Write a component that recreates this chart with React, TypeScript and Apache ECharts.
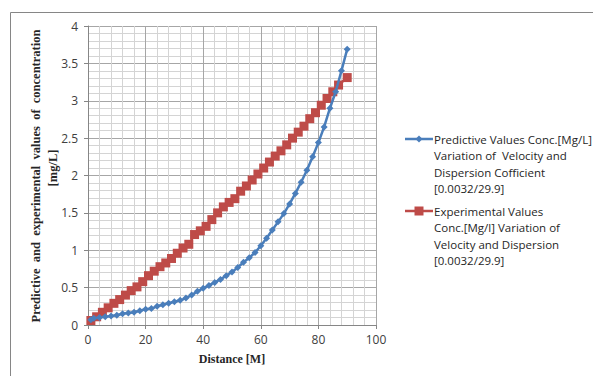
import React, { useEffect, useRef } from "react";
import * as echarts from "echarts";

const predictiveX = [1, 2, 4, 6, 8, 10, 12, 14, 16, 18, 20, 22, 24, 26, 28, 30, 32, 34, 36, 38, 40, 42, 44, 46, 48, 50, 52, 54, 56, 58, 60, 62, 64, 66, 68, 70, 72, 74, 76, 78, 80, 82, 84, 86, 88, 90];
const predictiveY = [0.07, 0.09, 0.1, 0.11, 0.12, 0.13, 0.15, 0.16, 0.17, 0.19, 0.21, 0.22, 0.25, 0.27, 0.29, 0.31, 0.33, 0.36, 0.4, 0.45, 0.49, 0.53, 0.57, 0.61, 0.66, 0.71, 0.77, 0.84, 0.9, 0.97, 1.06, 1.16, 1.27, 1.38, 1.49, 1.62, 1.76, 1.91, 2.07, 2.25, 2.44, 2.65, 2.9, 3.12, 3.4, 3.69];

const experimentalX = [1, 3, 5, 7, 9, 11, 13, 15, 17, 19, 21, 23, 25, 27, 29, 31, 33, 35, 37, 39, 41, 43, 45, 47, 49, 51, 53, 55, 57, 59, 61, 63, 65, 67, 69, 71, 73, 75, 77, 79, 81, 83, 85, 87, 90];
const experimentalY = [0.06, 0.11, 0.17, 0.23, 0.29, 0.34, 0.4, 0.46, 0.51, 0.58, 0.66, 0.72, 0.78, 0.83, 0.89, 0.96, 1.03, 1.08, 1.21, 1.26, 1.32, 1.41, 1.5, 1.58, 1.64, 1.69, 1.79, 1.86, 1.94, 2.02, 2.1, 2.18, 2.26, 2.33, 2.41, 2.5, 2.58, 2.66, 2.76, 2.84, 2.94, 3.03, 3.12, 3.21, 3.31];

const predictiveLegend = ["Predictive Values Conc.[Mg/L]", "Variation of  Velocity and", "Dispersion Cofficient", "[0.0032/29.9]"];
const experimentalLegend = ["Experimental Values", "Conc.[Mg/l] Variation of", "Velocity and Dispersion", "[0.0032/29.9]"];
const xTitle = "Distance [M]";
const yTitleLines = ["Predictive  and  experimental  values  of  concentration", "[mg/L]"];

const BLUE = "#4a7ebb";
const RED = "#be4b48";
const LABEL_FONT = "'Open Sans', 'Noto Sans', sans-serif";
const SERIF = "'Liberation Serif', 'DejaVu Serif', serif";

export default function App() {
  const ref = useRef<HTMLDivElement>(null);
  useEffect(() => {
    document.body.style.margin = "0";
    if (!ref.current) return;
    const chart = echarts.init(ref.current, undefined, { renderer: "svg" });
    const legendText = (lines: string[], x: number, y: number) =>
      lines.map((t, i) => ({
        type: "text",
        x,
        y: y + i * 16.5,
        style: { text: t, fill: "#262626", font: `11.5px ${LABEL_FONT}`, verticalAlign: "middle" },
      }));
    chart.setOption({
      animation: false,
      backgroundColor: "#ffffff",
      grid: { left: 88, right: 217, top: 26, bottom: 51 },
      xAxis: {
        type: "value",
        min: 0,
        max: 100,
        interval: 20,
        axisLine: { show: true, lineStyle: { color: "#868686" } },
        axisTick: { show: true, length: 4, lineStyle: { color: "#868686" } },
        axisLabel: { color: "#404040", fontSize: 12, fontFamily: LABEL_FONT, margin: 8 },
        splitLine: { show: true, lineStyle: { color: "#a6a6a6", width: 1 } },
        minorTick: { show: false, splitNumber: 5 },
        minorSplitLine: { show: true, lineStyle: { color: "#d4d4d4", width: 1 } },
      },
      yAxis: {
        type: "value",
        min: 0,
        max: 4,
        interval: 0.5,
        axisLine: { show: true, lineStyle: { color: "#868686" } },
        axisTick: { show: true, length: 4, lineStyle: { color: "#868686" } },
        axisLabel: { color: "#404040", fontSize: 12, fontFamily: LABEL_FONT, margin: 10 },
        splitLine: { show: true, lineStyle: { color: "#a6a6a6", width: 1 } },
        minorTick: { show: false, splitNumber: 5 },
        minorSplitLine: { show: true, lineStyle: { color: "#d4d4d4", width: 1 } },
      },
      series: [
        {
          name: predictiveLegend.join(" "),
          type: "line",
          data: predictiveX.map((x, i) => [x, predictiveY[i]]),
          symbol: "diamond",
          symbolSize: 7,
          lineStyle: { color: BLUE, width: 2.5 },
          itemStyle: { color: BLUE },
          z: 3,
        },
        {
          name: experimentalLegend.join(" "),
          type: "line",
          data: experimentalX.map((x, i) => [x, experimentalY[i]]),
          symbol: "rect",
          symbolSize: 9,
          lineStyle: { color: RED, width: 2.5 },
          itemStyle: { color: RED },
          z: 2,
        },
      ],
      graphic: [
        {
          type: "rect",
          shape: { x: 10.5, y: 12.5, width: 620, height: 400 },
          style: { fill: "none", stroke: "#868686", lineWidth: 1 },
          silent: true,
        },
        {
          type: "text",
          x: 232,
          y: 359,
          style: { text: xTitle, fill: "#262626", font: `bold 12px ${SERIF}`, align: "center", verticalAlign: "middle" },
        },
        {
          type: "text",
          x: 36,
          y: 176,
          rotation: Math.PI / 2,
          style: { text: yTitleLines[0], fill: "#262626", font: `bold 12.5px ${SERIF}`, align: "center", verticalAlign: "middle" },
        },
        {
          type: "text",
          x: 53,
          y: 168,
          rotation: Math.PI / 2,
          style: { text: yTitleLines[1], fill: "#262626", font: `bold 12.5px ${SERIF}`, align: "center", verticalAlign: "middle" },
        },
        { type: "line", shape: { x1: 405, y1: 139, x2: 433, y2: 139 }, style: { stroke: BLUE, lineWidth: 2.5 } },
        {
          type: "polygon",
          shape: { points: [[419, 135.5], [422.5, 139], [419, 142.5], [415.5, 139]] },
          style: { fill: BLUE },
        },
        ...legendText(predictiveLegend, 434, 139),
        { type: "line", shape: { x1: 405, y1: 211, x2: 433, y2: 211 }, style: { stroke: RED, lineWidth: 2.5 } },
        { type: "rect", shape: { x: 414.5, y: 206.5, width: 9, height: 9 }, style: { fill: RED } },
        ...legendText(experimentalLegend, 434, 211),
      ],
    });
    return () => chart.dispose();
  }, []);
  return <div ref={ref} style={{ width: 593, height: 376 }} />;
}
